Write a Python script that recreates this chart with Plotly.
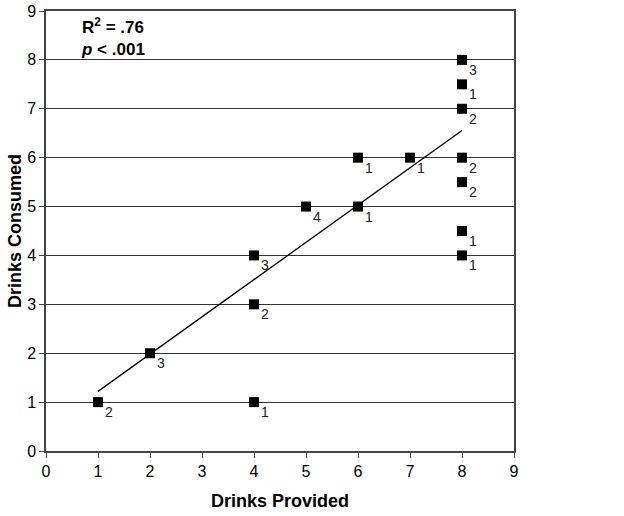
import numpy as np
import plotly.graph_objects as go

# data
drinks_provided = [1, 2, 4, 4, 4, 5, 6, 6, 7, 8, 8, 8, 8, 8, 8, 8]
drinks_consumed = [1, 2, 1, 3, 4, 5, 5, 6, 6, 8, 7.5, 7, 6, 5.5, 4.5, 4]
n_cases = [2, 3, 1, 2, 3, 4, 1, 1, 1, 3, 1, 2, 2, 2, 1, 1]
tick_vals = list(range(10))

# regression line fitted on every case (points weighted by count)
xs = np.repeat(drinks_provided, n_cases)
ys = np.repeat(drinks_consumed, n_cases)
slope, intercept = np.polyfit(xs, ys, 1)
line_x = np.array([min(drinks_provided), max(drinks_provided)])
line_y = slope * line_x + intercept

font_main = "Liberation Sans, Arial, sans-serif"

fig = go.Figure()

fig.add_trace(
    go.Scatter(
        x=line_x,
        y=line_y,
        mode="lines",
        line=dict(color="black", width=1.3),
        showlegend=False,
        hoverinfo="skip",
    )
)

fig.add_trace(
    go.Scatter(
        x=drinks_provided,
        y=drinks_consumed,
        mode="markers",
        marker=dict(symbol="square", size=10, color="black"),
        showlegend=False,
    )
)

# count labels written as subscripts next to each marker
for px_, py_, n in zip(drinks_provided, drinks_consumed, n_cases):
    fig.add_annotation(
        x=px_,
        y=py_,
        text=str(n),
        showarrow=False,
        xshift=11,
        yshift=-10,
        font=dict(family=font_main, size=14, color="#222222"),
    )

fig.add_annotation(
    x=0.07,
    y=0.995,
    xref="paper",
    yref="paper",
    xanchor="left",
    yanchor="top",
    align="left",
    showarrow=False,
    text="<b>R<sup>2</sup> = .76<br><i>p</i> < .001</b>",
    font=dict(family=font_main, size=17, color="black"),
)

# y axis title as a rotated annotation so it sits where the original does
fig.add_annotation(
    x=-0.066,
    y=0.5,
    xref="paper",
    yref="paper",
    xanchor="center",
    yanchor="middle",
    textangle=-90,
    showarrow=False,
    text="<b>Drinks Consumed</b>",
    font=dict(family=font_main, size=18, color="black"),
)

axis_common = dict(
    tickmode="array",
    tickvals=tick_vals,
    ticks="outside",
    ticklen=5,
    tickcolor="#444444",
    tickwidth=1.3,
    showline=True,
    linecolor="#444444",
    linewidth=1.5,
    mirror=True,
    zeroline=False,
    automargin=False,
    tickfont=dict(family=font_main, size=16, color="black"),
)

fig.update_xaxes(
    range=[0, 9],
    showgrid=False,
    title=dict(
        text="<b>Drinks Provided</b>",
        font=dict(family=font_main, size=18, color="black"),
    ),
    **axis_common,
)
fig.update_yaxes(
    range=[0, 9],
    showgrid=True,
    gridcolor="#333333",
    gridwidth=1.3,
    **axis_common,
)

fig.update_layout(
    width=624,
    height=516,
    margin=dict(l=46, r=110, t=11, b=65),
    paper_bgcolor="white",
    plot_bgcolor="white",
)

# drop the default body margin so the figure fills the window exactly
fig.write_html(
    "out.html",
    config={"displayModeBar": False},
    post_script="document.body.style.margin='0';",
)
